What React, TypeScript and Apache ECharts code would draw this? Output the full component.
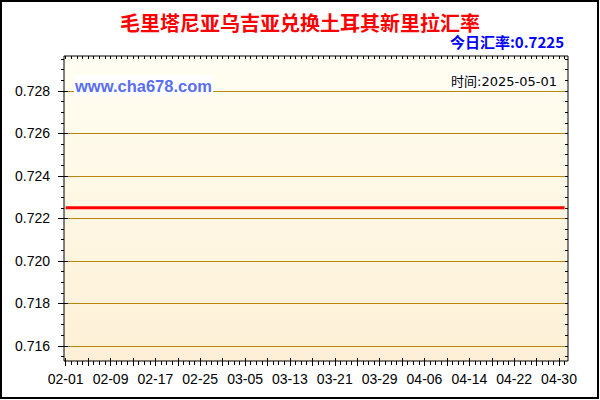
import { useEffect, useRef } from 'react';
import * as echarts from 'echarts';

const TITLE = '毛里塔尼亚乌吉亚兑换土耳其新里拉汇率';
const RATE_TEXT = '今日汇率:0.7225';
const SITE_TEXT = 'www.cha678.com';
const TIME_TEXT = '时间:2025-05-01';

// 2025-02-01 .. 2025-05-01, one value per day
const START_DATE = '2025-02-01';
const rates = [
  // Feb
  0.7225, 0.7225, 0.7225, 0.7225, 0.7225, 0.7225, 0.7225, 0.7225, 0.7225, 0.7225,
  0.7225, 0.7225, 0.7225, 0.7225, 0.7225, 0.7225, 0.7225, 0.7225, 0.7225, 0.7225,
  0.7225, 0.7225, 0.7225, 0.7225, 0.7225, 0.7225, 0.7225, 0.7225,
  // Mar
  0.7225, 0.7225, 0.7225, 0.7225, 0.7225, 0.7225, 0.7225, 0.7225, 0.7225, 0.7225,
  0.7225, 0.7225, 0.7225, 0.7225, 0.7225, 0.7225, 0.7225, 0.7225, 0.7225, 0.7225,
  0.7225, 0.7225, 0.7225, 0.7225, 0.7225, 0.7225, 0.7225, 0.7225, 0.7225, 0.7225,
  0.7225,
  // Apr
  0.7225, 0.7225, 0.7225, 0.7225, 0.7225, 0.7225, 0.7225, 0.7225, 0.7225, 0.7225,
  0.7225, 0.7225, 0.7225, 0.7225, 0.7225, 0.7225, 0.7225, 0.7225, 0.7225, 0.7225,
  0.7225, 0.7225, 0.7225, 0.7225, 0.7225, 0.7225, 0.7225, 0.7225, 0.7225, 0.7225,
  // May
  0.7225,
];

const xTickLabels = ['02-01', '02-09', '02-17', '02-25', '03-05', '03-13', '03-21', '03-29', '04-06', '04-14', '04-22', '04-30'];
const yTickLabels = [0.716, 0.718, 0.72, 0.722, 0.724, 0.726, 0.728];
const yMinorTicks = [
  0.7155, 0.716, 0.7165, 0.717, 0.7175, 0.718, 0.7185, 0.719, 0.7195, 0.72, 0.7205, 0.721, 0.7215,
  0.722, 0.7225, 0.723, 0.7235, 0.724, 0.7245, 0.725, 0.7255, 0.726, 0.7265, 0.727, 0.7275, 0.728, 0.7285, 0.729, 0.7295,
];

const Y_MIN = 0.715294;
const Y_MAX = 0.729647;
const X_MIN = -0.3;
const X_MAX = 89.6;

const dates = rates.map((_, i) => {
  const d = new Date(START_DATE + 'T00:00:00Z');
  d.setUTCDate(d.getUTCDate() + i);
  return d.toISOString().slice(5, 10);
});
const dayIdx = dates.map((_, i) => i);
const majorDays = dayIdx.filter((i) => i % 4 === 0);
const labelDays = xTickLabels.map((l) => dates.indexOf(l));

const LABEL_FONT = 'Liberation Sans';
const CJK_FONT = 'Noto Sans CJK SC';

const tickAxisX = (position: string, values: number[], length: number, inside: boolean) => ({
  type: 'value',
  min: X_MIN,
  max: X_MAX,
  position,
  axisLine: { show: false, onZero: false },
  splitLine: { show: false },
  axisLabel: { show: false },
  axisTick: { show: true, customValues: values, length, inside, lineStyle: { color: '#000', width: 1 } },
});

const tickAxisY = (position: string, values: number[], length: number, inside: boolean) => ({
  type: 'value',
  min: Y_MIN,
  max: Y_MAX,
  position,
  axisLine: { show: false, onZero: false },
  splitLine: { show: false },
  axisLabel: { show: false },
  axisTick: { show: true, customValues: values, length, inside, lineStyle: { color: '#000', width: 1 } },
});

export default function App() {
  const chartRef = useRef<HTMLDivElement>(null);

  useEffect(() => {
    document.body.style.margin = '0';
    if (!chartRef.current) return;
    const chart = echarts.init(chartRef.current, null, { renderer: 'svg' });

    const option = {
      animation: false,
      backgroundColor: '#fff',
      title: [
        {
          text: TITLE,
          left: 'center',
          top: 12,
          padding: 0,
          textStyle: { color: '#ff0000', fontSize: 20, fontWeight: 'bold', fontFamily: CJK_FONT },
        },
        {
          text: RATE_TEXT,
          right: 36,
          top: 34,
          padding: 0,
          textStyle: { color: '#0000ff', fontSize: 15, fontWeight: 'bold', fontFamily: CJK_FONT },
        },
        {
          text: SITE_TEXT,
          left: 74,
          top: 75,
          padding: [2, 1],
          backgroundColor: '#fff',
          textStyle: { color: '#5a6ef0', fontSize: 16.5, fontWeight: 'bold', fontFamily: LABEL_FONT },
        },
        {
          text: TIME_TEXT,
          right: 42,
          top: 73,
          padding: [2, 1],
          backgroundColor: '#fff',
          textStyle: { color: '#000', fontSize: 13, fontWeight: 'normal', fontFamily: 'DejaVu Sans, ' + CJK_FONT },
        },
      ],
      graphic: [
        {
          type: 'rect',
          shape: { x: 1, y: 1, width: 597, height: 397 },
          style: { fill: 'none', stroke: '#000', lineWidth: 2 },
          z: 100,
        },
      ],
      grid: {
        left: 64,
        right: 32,
        top: 56,
        bottom: 39,
        show: true,
        outerBoundsMode: 'none',
        backgroundColor: new echarts.graphic.LinearGradient(0, 0, 0, 1, [
          { offset: 0, color: '#fffef2' },
          { offset: 1, color: '#fdf0d6' },
        ]),
        borderColor: '#000',
        borderWidth: 1,
      },
      xAxis: [
        {
          type: 'value',
          min: X_MIN,
          max: X_MAX,
          position: 'bottom',
          axisLine: { show: false, onZero: false },
          splitLine: { show: false },
          axisTick: { show: true, customValues: majorDays, length: 5, lineStyle: { color: '#000' } },
          axisLabel: {
            customValues: labelDays,
            formatter: (v: number) => dates[Math.round(v)],
            margin: 11,
            fontSize: 14,
            color: '#000',
            fontFamily: LABEL_FONT,
          },
        },
        tickAxisX('bottom', dayIdx, 4, false),
        tickAxisX('bottom', majorDays, 3, true),
        tickAxisX('top', dayIdx, 3, true),
      ],
      yAxis: [
        {
          type: 'value',
          min: Y_MIN,
          max: Y_MAX,
          position: 'left',
          axisLine: { show: false, onZero: false },
          splitLine: { show: true, lineStyle: { color: '#b8860b', width: 1 } },
          axisTick: { show: true, customValues: yTickLabels, length: 6, lineStyle: { color: '#000' } },
          axisLabel: {
            customValues: yTickLabels,
            formatter: (v: number) => v.toFixed(3),
            margin: 14,
            fontSize: 14,
            color: '#000',
            fontFamily: LABEL_FONT,
          },
        },
        tickAxisY('left', yTickLabels, 4, true),
        tickAxisY('left', yMinorTicks, 3, false),
        tickAxisY('right', yMinorTicks, 3, true),
      ],
      series: [
        {
          type: 'line',
          xAxisIndex: 0,
          yAxisIndex: 0,
          data: rates.map((v, i) => [i, v]),
          symbol: 'none',
          lineStyle: { color: '#ff0000', width: 3 },
          z: 5,
        },
      ],
    };

    chart.setOption(option);
    return () => {
      chart.dispose();
    };
  }, []);

  return <div ref={chartRef} style={{ width: 600, height: 400 }} />;
}
